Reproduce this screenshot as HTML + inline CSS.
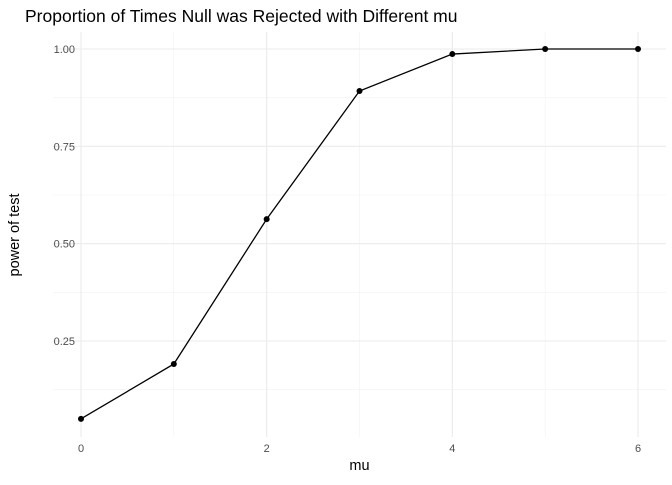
<!DOCTYPE html>
<html><head><meta charset="utf-8"><style>
body{margin:0;background:#fff;font-family:"Liberation Sans",Arial,sans-serif}
</style></head><body>
<svg id="chart" width="672" height="480" xmlns="http://www.w3.org/2000/svg">
<rect width="672" height="480" fill="#fff"/>
<text x="25" y="22" font-size="17.5" fill="#000" font-family="Liberation Sans, sans-serif">Proportion of Times Null was Rejected with Different mu</text>
<g id="grid"></g><g id="axes"></g><g id="marks"></g>
<text x="359.5" y="470" font-size="14.5" text-anchor="middle" font-family="Liberation Sans, sans-serif">mu</text>
<text transform="translate(19,235) rotate(-90)" font-size="14.5" text-anchor="middle" font-family="Liberation Sans, sans-serif">power of test</text>
</svg>
<script>
const mus=[0,1,2,3,4,5,6];
const power=[0.050,0.191,0.563,0.892,0.987,1.0,1.0];
const xTicks=[0,2,4,6];
const xMinor=[1,3,5];
const yTicks=[0.25,0.50,0.75,1.00];
const yTickLabels=["0.25","0.50","0.75","1.00"];
const yMinor=[0.125,0.375,0.625,0.875];
const NS="http://www.w3.org/2000/svg";
const X0=81,X1=638,Y1=49,Y025=341;
const xs=v=>X0+(X1-X0)*v/6;
const ys=v=>Y1+(1-v)*(Y025-Y1)/0.75;
const pTop=32,pBot=437,pLeft=53,pRight=666;
function mk(t,a,p){const e=document.createElementNS(NS,t);for(const k in a)e.setAttribute(k,a[k]);p.appendChild(e);return e;}
const g=document.getElementById('grid'),ax=document.getElementById('axes'),m=document.getElementById('marks');
yMinor.forEach(v=>{const e=mk('line',{x1:pLeft,x2:pRight,y1:ys(v),y2:ys(v),stroke:'#f2f2f2','stroke-width':0.6},g);

});
xMinor.forEach(v=>{const e=mk('line',{x1:xs(v),x2:xs(v),y1:pTop,y2:pBot,stroke:'#f2f2f2','stroke-width':0.6},g);

});
yTicks.forEach((v,i)=>{const e=mk('line',{x1:pLeft,x2:pRight,y1:ys(v),y2:ys(v),stroke:'#ebebeb','stroke-width':1.1},g);


const t=mk('text',{x:75,y:ys(v)+4,'font-size':11,'text-anchor':'end',fill:'#4d4d4d'},ax);t.textContent=yTickLabels[i];

});
xTicks.forEach(v=>{const e=mk('line',{x1:xs(v),x2:xs(v),y1:pTop,y2:pBot,stroke:'#ebebeb','stroke-width':1.1},g);


const t=mk('text',{x:xs(v),y:452,'font-size':11,'text-anchor':'middle',fill:'#4d4d4d'},ax);t.textContent=String(v);

});
const pl=mk('polyline',{points:mus.map((v,i)=>xs(v)+','+ys(power[i])).join(' '),fill:'none',stroke:'#000','stroke-width':1.3},m);


mus.forEach((v,i)=>{const c=mk('circle',{cx:xs(v),cy:ys(power[i]),r:3,fill:'#000'},m);

});
</script>
</body></html>
